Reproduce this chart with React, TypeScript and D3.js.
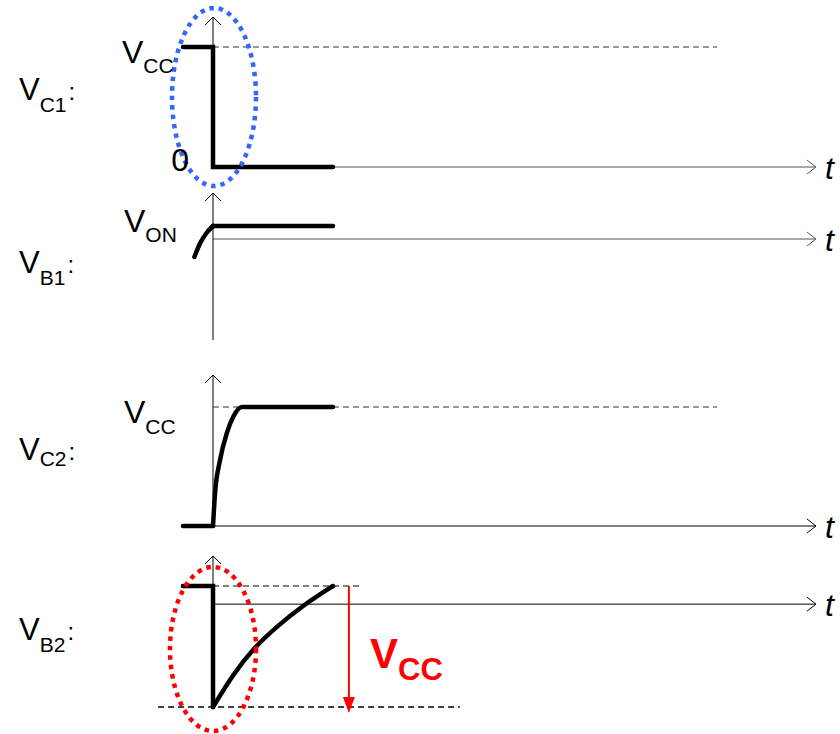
import { useEffect, useRef } from 'react';
import * as d3 from 'd3';

type Pt = [number, number];

// time in units of the transient, t = 0 is the switching instant
const tStart = -1;
const tStop = 4;
const tRefEnd = 16.8;
const tAxisEnd = 20.1;

// waveforms (normalised levels)
const vc1Step: Pt[] = [[-1, 1], [0, 1], [0, 0], [4, 0]];
const vb1Rise: Pt[] = [[-0.62, -1.38], [-0.43, -0.33], [-0.21, 0.48], [0, 1]];
const vb1Flat: Pt[] = [[0, 1], [4, 1]];
const vc2Low: Pt[] = [[-1, 0], [0, 0]];
const vc2Rise: Pt[] = [[0, 0], [0.07, 0.28], [0.23, 0.55], [0.46, 0.78], [0.68, 0.92], [0.96, 1], [4, 1]];
const vb2Step: Pt[] = [[-1, 0.15], [0, 0.15], [0, -0.85]];
const vb2Recover: Pt[] = [[0, -0.85], [0.67, -0.58], [1.33, -0.37], [2.1, -0.19], [3, -0.01], [4, 0.15]];

// left-hand signal names
const signalNames = ['C1', 'B1', 'C2', 'B2'];

const FONT = '"Liberation Sans", Arial, sans-serif';

export default function App() {
	const svgRef = useRef<SVGSVGElement>(null);

	useEffect(() => {
		if (!svgRef.current) return;
		const svg = d3.select(svgRef.current);
		svg.selectAll('*').remove();

		const x = d3.scaleLinear().domain([tStart, tStop]).range([183, 333]);

		// one y scale per panel
		const panels = [
			{ y: d3.scaleLinear().domain([0, 1]).range([167, 47]), top: 17, bottom: 167, axisColor: '#555', labelY: 100, subDy: 12 },
			{ y: d3.scaleLinear().domain([0, 1]).range([239, 226]), top: 193, bottom: 340, axisColor: '#555', labelY: 273, subDy: 12 },
			{ y: d3.scaleLinear().domain([0, 1]).range([526, 407]), top: 375, bottom: 526, axisColor: '#000', labelY: 460, subDy: 6 },
			{ y: d3.scaleLinear().domain([-0.85, 0.15]).range([707, 586]), top: 556, bottom: 707, axisColor: '#000', labelY: 640, subDy: 12 },
		];

		const x0 = x(0);

		// Axes
		panels.forEach((p) => {
			const g = svg.append('g');
			const ya = p.y(0);
			const xe = x(tAxisEnd);
			g.append('line').attr('x1', x0).attr('x2', xe).attr('y1', ya).attr('y2', ya)
				.attr('stroke', p.axisColor).attr('stroke-width', 1);
			g.append('path').attr('d', `M${xe - 9},${ya - 7}L${xe},${ya}L${xe - 9},${ya + 7}`)
				.attr('fill', 'none').attr('stroke', p.axisColor).attr('stroke-width', 1);
			g.append('line').attr('x1', x0).attr('x2', x0).attr('y1', p.bottom).attr('y2', p.top)
				.attr('stroke', '#000').attr('stroke-width', 1);
			g.append('path').attr('d', `M${x0 - 8},${p.top + 8}L${x0},${p.top}L${x0 + 8},${p.top + 8}`)
				.attr('fill', 'none').attr('stroke', '#000').attr('stroke-width', 1);
			g.append('text').attr('x', xe + 9).attr('y', ya + 12)
				.attr('font-family', FONT).attr('font-style', 'italic').attr('font-size', 32).text('t');
		});

		// Reference dashed lines
		const dash = (x1: number, x2: number, yy: number, w = 1, c = '#333') =>
			svg.append('line').attr('x1', x1).attr('x2', x2).attr('y1', yy).attr('y2', yy)
				.attr('stroke', c).attr('stroke-width', w).attr('stroke-dasharray', '6,4');
		dash(x0, x(tRefEnd), panels[0].y(1));
		dash(x0, x(tRefEnd), panels[2].y(1));
		dash(x0, x(4.9), panels[3].y(0.15), 1.2, '#000');
		dash(x(-1.83), x(8.23), panels[3].y(-0.85), 1.6, '#000');

		// Waveforms
		const draw = (data: Pt[], y: d3.ScaleLinear<number, number>, curve: d3.CurveFactory) => {
			const line = d3.line<Pt>().x((d) => x(d[0])).y((d) => y(d[1])).curve(curve);
			svg.append('path').attr('d', line(data)).attr('fill', 'none').attr('stroke', '#000')
				.attr('stroke-width', 4.5).attr('stroke-linecap', 'round').attr('stroke-linejoin', 'miter');
		};
		draw(vc1Step, panels[0].y, d3.curveLinear);
		draw(vb1Rise, panels[1].y, d3.curveMonotoneX);
		draw(vb1Flat, panels[1].y, d3.curveLinear);
		draw(vc2Low, panels[2].y, d3.curveLinear);
		draw(vc2Rise, panels[2].y, d3.curveMonotoneX);
		draw(vb2Step, panels[3].y, d3.curveLinear);
		draw(vb2Recover, panels[3].y, d3.curveBasis);

		// Red V_CC swing arrow
		const xa = x(4.53);
		const yTop = panels[3].y(0.15);
		const yBot = panels[3].y(-0.85) + 6;
		svg.append('line').attr('x1', xa).attr('x2', xa).attr('y1', yTop).attr('y2', yBot - 14)
			.attr('stroke', '#f00').attr('stroke-width', 2);
		svg.append('path').attr('d', `M${xa - 6},${yBot - 16}L${xa + 6},${yBot - 16}L${xa},${yBot}Z`).attr('fill', '#f00');

		// Highlight ellipses
		svg.append('ellipse').attr('cx', x0 + 1).attr('cy', 97).attr('rx', 42).attr('ry', 89)
			.attr('fill', 'none').attr('stroke', '#3366ff').attr('stroke-width', 4.5).attr('stroke-dasharray', '4.5,5');
		svg.append('ellipse').attr('cx', x0).attr('cy', 649).attr('rx', 43).attr('ry', 82)
			.attr('fill', 'none').attr('stroke', '#ff0000').attr('stroke-width', 4.5).attr('stroke-dasharray', '4.5,5');

		// Labels with subscripts
		const subLabel = (tx: number, ty: number, main: string, sub: string, size: number, subSize: number, dy: number, color = '#000', weight = 'normal') => {
			const t = svg.append('text').attr('x', tx).attr('y', ty).attr('font-family', FONT)
				.attr('fill', color).attr('font-weight', weight).attr('font-size', size);
			t.append('tspan').text(main);
			t.append('tspan').attr('font-size', subSize).attr('dy', dy).text(sub);
			return t;
		};
		panels.forEach((p, i) => {
			const t = subLabel(19, p.labelY, 'V', signalNames[i], 31, 21, p.subDy);
			t.append('tspan').attr('dy', -p.subDy).attr('dx', 2).attr('font-size', 24).text(':');
		});
		subLabel(122, 63, 'V', 'CC', 32, 21, 10);
		subLabel(124, 232, 'V', 'ON', 32, 21, 10);
		subLabel(124, 423, 'V', 'CC', 32, 21, 11);
		subLabel(370, 668, 'V', 'CC', 42, 31, 12, '#f00', 'bold');
		svg.append('text').attr('x', 189).attr('y', 171).attr('text-anchor', 'end')
			.attr('font-family', FONT).attr('font-size', 32).text('0');
	}, []);

	return (
		<svg ref={svgRef} width={840} height={734} style={{ position: 'absolute', left: 0, top: 0, background: '#fff' }} />
	);
}
